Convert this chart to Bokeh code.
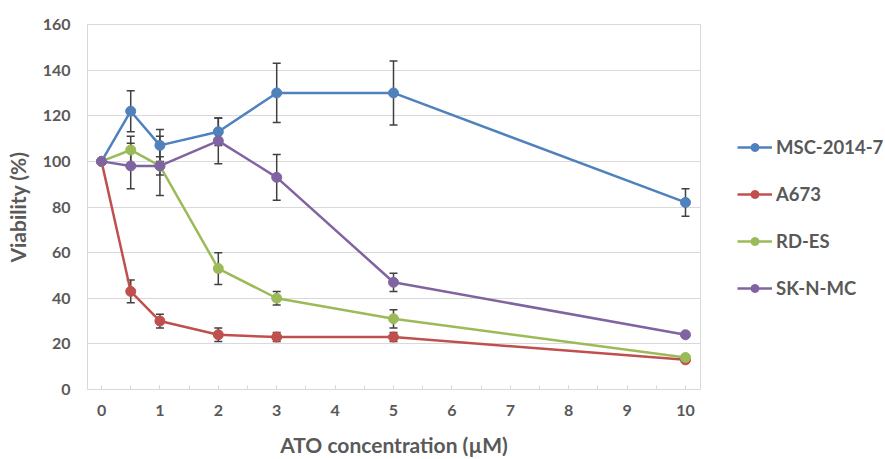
from bokeh.plotting import figure
from bokeh.layouts import row
from bokeh.models import ColumnDataSource, Whisker, TeeHead, Legend, LegendItem, SingleIntervalTicker, Range1d
from bokeh.embed import file_html
from bokeh.resources import INLINE

conc = [0, 0.5, 1, 2, 3, 5, 10]
series_names = ["MSC-2014-7", "A673", "RD-ES", "SK-N-MC"]
msc = [100, 122, 107, 113, 130, 130, 82]
msc_err = [0, 9, 7, 6, 13, 14, 6]
a673 = [100, 43, 30, 24, 23, 23, 13]
a673_err = [0, 5, 3, 3, 2, 2, 1]
rdes = [100, 105, 98, 53, 40, 31, 14]
rdes_err = [0, 6, 4, 7, 3, 4, 1]
sknmc = [100, 98, 98, 109, 93, 47, 24]
sknmc_err = [0, 10, 13, 10, 10, 4, 1]
colors = ["#4F81BD", "#C0504D", "#9BBB59", "#8064A2"]

TEXT = "#595959"
GRID = "#D9D9D9"
FONT = "Lato"

p = figure(width=702, height=459, output_backend="svg", toolbar_location=None,
           x_range=Range1d(-0.24, 10.257), y_range=Range1d(0, 160),
           min_border_left=87, min_border_right=2, min_border_top=24, min_border_bottom=70)
p.outline_line_color = GRID
p.background_fill_color = "white"
p.border_fill_color = "white"

p.xgrid.grid_line_color = None
p.ygrid.grid_line_color = GRID
p.ygrid.grid_line_width = 1
p.yaxis.ticker = SingleIntervalTicker(interval=20, num_minor_ticks=0)
p.xaxis.ticker = SingleIntervalTicker(interval=1, num_minor_ticks=2)

for ax in (p.xaxis[0], p.yaxis[0]):
    ax.axis_line_color = GRID
    ax.axis_line_width = 1
    ax.major_label_text_font = FONT
    ax.major_label_text_font_style = "bold"
    ax.major_label_text_font_size = "16px"
    ax.major_label_text_color = TEXT
    ax.axis_label_text_font = FONT
    ax.axis_label_text_font_style = "bold"
    ax.axis_label_text_font_size = "21px"
    ax.axis_label_text_color = TEXT

p.xaxis.major_tick_in = 4
p.xaxis.major_tick_out = 0
p.xaxis.minor_tick_in = 4
p.xaxis.minor_tick_out = 0
p.xaxis.major_tick_line_color = GRID
p.xaxis.minor_tick_line_color = GRID
p.xaxis.major_label_standoff = 15
p.xaxis.axis_label = "ATO concentration (µM)"
p.xaxis.axis_label_standoff = 13

p.yaxis.major_tick_line_color = None
p.yaxis.minor_tick_line_color = None
p.yaxis.major_tick_out = 0
p.yaxis.major_tick_in = 0
p.yaxis.major_label_standoff = 17
p.yaxis.axis_label = "Viability (%)"
p.yaxis.axis_label_standoff = 10

values = [msc, a673, rdes, sknmc]
errors = [msc_err, a673_err, rdes_err, sknmc_err]

# error bars
for vals, errs in zip(values, errors):
    xs = [c for c, e in zip(conc, errs) if e > 0]
    up = [v + e for v, e in zip(vals, errs) if e > 0]
    lo = [v - e for v, e in zip(vals, errs) if e > 0]
    src = ColumnDataSource(dict(x=xs, upper=up, lower=lo))
    w = Whisker(base="x", upper="upper", lower="lower", source=src, dimension="height",
                line_color="#404040", line_width=1.5,
                upper_head=TeeHead(size=8, line_color="#404040", line_width=1.5),
                lower_head=TeeHead(size=8, line_color="#404040", line_width=1.5))
    p.add_layout(w)

sources = []
for name, vals, col in zip(series_names, values, colors):
    src = ColumnDataSource(dict(x=conc, y=vals))
    sources.append(src)
    p.line("x", "y", source=src, line_color=col, line_width=2.5)
    p.scatter("x", "y", source=src, size=10, fill_color=col, line_color=col)

# legend panel (separate figure to the right of the plot area); its ranges keep
# the series out of view so only the legend shows
lp = figure(width=183, height=459, output_backend="svg", toolbar_location=None,
            x_range=Range1d(-100, -99), y_range=Range1d(-100, -99),
            x_axis_location=None, y_axis_location=None,
            min_border_left=0, min_border_right=0, min_border_top=0, min_border_bottom=0)
lp.outline_line_color = None
lp.grid.grid_line_color = None
lp.border_fill_color = "white"
items = []
for name, col, src in zip(series_names, colors, sources):
    l = lp.line("x", "y", source=src, line_color=col, line_width=2.5)
    s = lp.scatter("x", "y", source=src, size=10, fill_color=col, line_color=col)
    items.append(LegendItem(label=name, renderers=[l, s]))

legend = Legend(items=items, location=(35, 90), orientation="vertical",
                glyph_width=35, glyph_height=20, label_height=20, spacing=25,
                label_standoff=4, padding=0, margin=0,
                border_line_color=None, background_fill_alpha=0,
                label_text_font=FONT, label_text_font_style="bold",
                label_text_font_size="18.5px", label_text_color=TEXT)
lp.add_layout(legend, "center")

layout = row(p, lp, spacing=0)
open("out.html", "w").write(file_html(layout, INLINE))
